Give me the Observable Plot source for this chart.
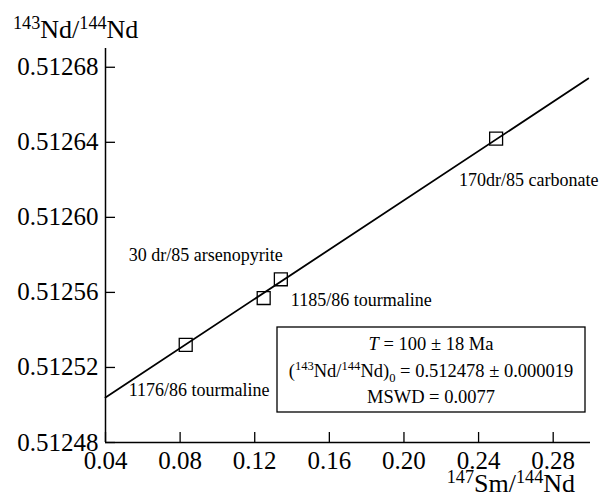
<!DOCTYPE html>
<html>
<head>
<meta charset="utf-8">
<script src="https://cdn.jsdelivr.net/npm/d3@7"></script>
<script src="https://cdn.jsdelivr.net/npm/@observablehq/plot@0.6"></script>
<style>
  html, body { margin: 0; padding: 0; background: #fff; }
  #chart { width: 603px; height: 496px; }
</style>
</head>
<body>
<div id="chart"></div>
<script>
// ---- data ----
const sampleX = [0.083, 0.1248, 0.134, 0.2494];
const sampleY = [0.512532, 0.512557, 0.512567, 0.512642];
const sampleLabels = ["1176/86 tourmaline", "30 dr/85 arsenopyrite", "1185/86 tourmaline", "170dr/85 carbonate"];
const isochronX = [0.04, 0.2988];
const isochronY = [0.512504, 0.512674];
const xTicks = [0.04, 0.08, 0.12, 0.16, 0.20, 0.24, 0.28];
const yTicks = [0.51248, 0.51252, 0.51256, 0.51260, 0.51264, 0.51268];
const xDomain = [0.04, 0.30];
const yDomain = [0.51248, 0.51269];
const statAge = "100 ± 18 Ma";
const statInitial = "0.512478 ± 0.000019";
const statMSWD = "MSWD = 0.0077";

const samples = sampleX.map((x, i) => ({x, y: sampleY[i], label: sampleLabels[i]}));
const isochron = isochronX.map((x, i) => ({x, y: isochronY[i]}));

const W = 603, H = 496;
const mL = 105, mR = 13, mT = 48, mB = 54;
const innerW = W - mL - mR, innerH = H - mT - mB;
const FONT = "'Liberation Serif', 'Times New Roman', serif";

// label offsets relative to their point (layout, not data)
const labelLayout = [
  {dx: -57, dy: 45},
  {dx: -135, dy: -43},
  {dx: 10, dy: 21},
  {dx: -37, dy: 42}
];

const plot = Plot.plot({
  width: W,
  height: H,
  marginLeft: mL,
  marginRight: mR,
  marginTop: mT,
  marginBottom: mB,
  style: {background: "#fff", color: "#000"},
  x: {domain: xDomain},
  y: {domain: yDomain},
  marks: [
    Plot.axisY({ticks: yTicks, tickSize: 0, tickPadding: 7, tickFormat: d3.format(".5f"), fontSize: 25, label: null}),
    Plot.axisX({ticks: xTicks, tickSize: 0, tickPadding: 9, tickFormat: d3.format(".2f"), fontSize: 25, label: null}),
    Plot.ruleY(yTicks, {stroke: "#000", strokeWidth: 1.3, insetRight: innerW - 10}),
    Plot.ruleX(xTicks, {stroke: "#000", strokeWidth: 1.3, insetTop: innerH - 10}),
    Plot.ruleX([xDomain[0]], {stroke: "#000", strokeWidth: 1.5}),
    Plot.ruleY([yDomain[0]], {stroke: "#000", strokeWidth: 1.5}),
    Plot.line(isochron, {x: "x", y: "y", stroke: "#000", strokeWidth: 1.8}),
    Plot.dot(samples, {x: "x", y: "y", symbol: "square", r: 7.3, stroke: "#000", strokeWidth: 1.3, fill: "none"}),
    ...samples.map((s, i) => Plot.text([s], {
      x: "x", y: "y", text: "label", textAnchor: "start",
      dx: labelLayout[i].dx, dy: labelLayout[i].dy,
      fontSize: 18, fill: "#000"
    }))
  ]
});

document.getElementById("chart").appendChild(plot);

// ---- annotations with super/subscripts ----
const svg = d3.select(plot);
const sx = plot.scale("x"), sy = plot.scale("y");
const frameL = sx.apply(xDomain[0]), frameR = sx.apply(xDomain[1]);
const frameB = sy.apply(yDomain[0]), frameT = sy.apply(yDomain[1]);

function ratioText(g, x, y, size, parts, anchor, supScale) {
  const ss = supScale || 0.68;
  const t = g.append("text").attr("x", x).attr("y", y)
    .attr("font-size", size).attr("fill", "#000").attr("text-anchor", anchor || "start");
  let shift = 0;
  for (const p of parts) {
    const ts = t.append("tspan").text(p.t);
    let target = 0, fs = size;
    if (p.sup) { target = -size * 0.36; fs = size * ss; }
    if (p.sub) { target = size * 0.25; fs = size * ss; }
    if (p.it) ts.attr("font-style", "italic");
    ts.attr("font-size", fs).attr("dy", target - shift);
    shift = target;
  }
  return t;
}

const ann = svg.append("g");
// y-axis title
ratioText(ann, 13, frameT - 10, 26, [
  {t: "143", sup: true}, {t: "Nd/"}, {t: "144", sup: true}, {t: "Nd"}
], "start", 0.7);
// x-axis title
ratioText(ann, frameR - 15, H - 4, 26, [
  {t: "147", sup: true}, {t: "Sm/"}, {t: "144", sup: true}, {t: "Nd"}
], "end", 0.7);

// statistics box
const bx0 = frameR - 313, bx1 = frameR - 5, by0 = frameB - 115, by1 = frameB - 30;
ann.append("rect").attr("x", bx0).attr("y", by0).attr("width", bx1 - bx0).attr("height", by1 - by0)
  .attr("fill", "#fff").attr("stroke", "#000").attr("stroke-width", 1.3);
const cx = (bx0 + bx1) / 2;
ratioText(ann, cx, by0 + 23, 18.5, [{t: "T", it: true}, {t: " = " + statAge}], "middle");
ratioText(ann, cx, by0 + 50, 18.5, [
  {t: "("}, {t: "143", sup: true}, {t: "Nd/"}, {t: "144", sup: true}, {t: "Nd)"}, {t: "0", sub: true}, {t: " = " + statInitial}
], "middle");
ratioText(ann, cx, by0 + 76, 18.5, [{t: statMSWD}], "middle");

// use the serif face on every text of the chart
plot.style.setProperty("font-family", FONT, "important");
plot.querySelectorAll("text, tspan").forEach(t => t.style.setProperty("font-family", FONT, "important"));
plot.querySelectorAll("g[font-family]").forEach(g => g.setAttribute("font-family", FONT));
</script>
</body>
</html>
